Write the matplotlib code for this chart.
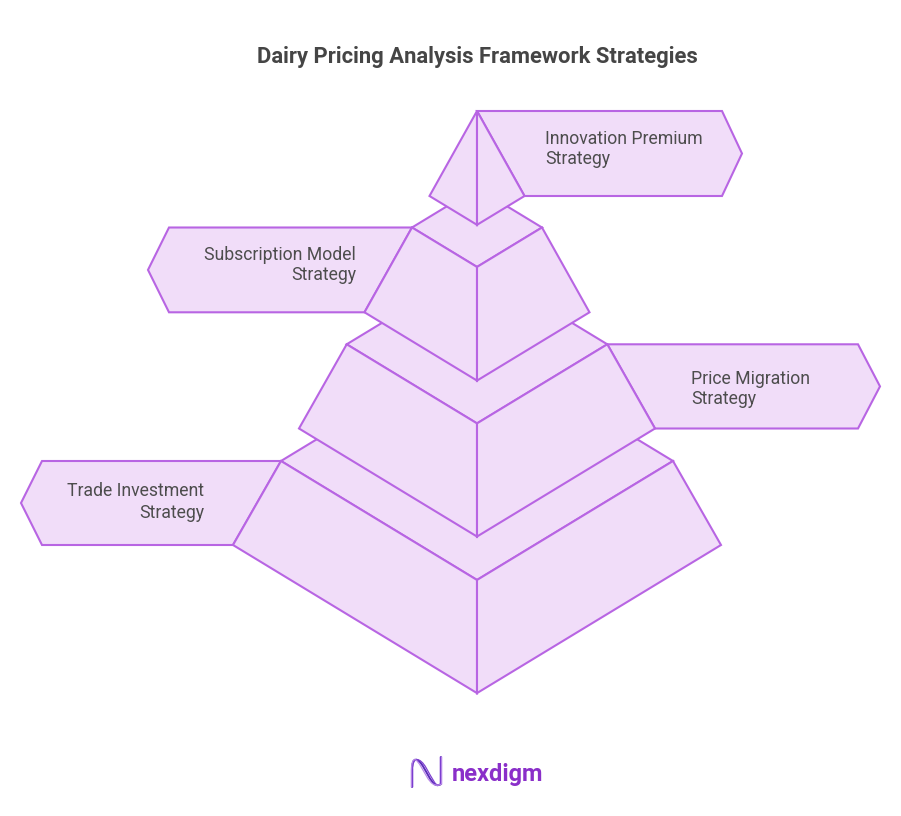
import matplotlib
matplotlib.use("Agg")
import matplotlib.pyplot as plt
from matplotlib.patches import Polygon, PathPatch
from matplotlib.path import Path
import numpy as np

# ---- content ----
title = "Dairy Pricing Analysis Framework Strategies"
labels = ["Innovation Premium\nStrategy",
          "Subscription Model\nStrategy",
          "Price Migration\nStrategy",
          "Trade Investment\nStrategy"]
label_side = ["right", "left", "right", "left"]
brand = "nexdigm"

# ---- style ----
FILL = "#F1DDF9"
EDGE = "#B865E3"
TEXT = "#4d4d4d"
LW = 1.5

W, H = 901, 816
fig = plt.figure(figsize=(W / 100, H / 100), dpi=100)
ax = fig.add_axes([0, 0, 1, 1])
ax.set_xlim(0, W)
ax.set_ylim(H, 0)
ax.axis("off")

CX = 477.0
R = 0.607  # rhombus aspect (half-height / half-width)

# tip pyramid
tip_apex = 111.0
tip_base_y = 196.0
tip_hw = 47.5
# frustum layers: (top corner y, top half width, bottom corner y, bottom half width)
layers = [(227.5, 65.0, 312.3, 112.5),
          (344.3, 130.3, 428.5, 178.0),
          (461.0, 196.0, 545.0, 244.0)]

# banner outer geometry: (outer corner x, point x)
banner_outer = [(722, 742), (169, 148), (858, 880), (42, 21)]


def poly(pts, z):
    ax.add_patch(Polygon(pts, closed=True, facecolor=FILL, edgecolor=EDGE,
                         lw=LW, joinstyle="miter", zorder=z))


# banner vertical extents and inner x positions
bands = [(tip_apex, tip_base_y, CX, CX + tip_hw)]
for i, (ty, thw, by, bhw) in enumerate(layers):
    side = label_side[i + 1]
    s = 1 if side == "right" else -1
    bands.append((ty, by, CX + s * thw, CX + s * bhw))

# banners (behind pyramid)
for i, ((ty, by, xin_t, xin_b), (xc, xp)) in enumerate(zip(bands, banner_outer)):
    pts = [(xin_t, ty), (xc, ty), (xp, (ty + by) / 2), (xc, by), (xin_b, by)]
    poly(pts, 1)

# frustums from bottom to top so upper layers overlap
for k, (ty, thw, by, bhw) in enumerate(reversed(layers)):
    z = 2 + k
    tf = ty + thw * R  # top front
    tb = ty - thw * R  # top back
    bf = by + bhw * R  # bottom front
    poly([(CX - thw, ty), (CX, tb), (CX + thw, ty), (CX, tf)], z)
    poly([(CX - thw, ty), (CX, tf), (CX, bf), (CX - bhw, by)], z)
    poly([(CX + thw, ty), (CX, tf), (CX, bf), (CX + bhw, by)], z)

# tip
z = 10
tipf = tip_base_y + tip_hw * R
poly([(CX, tip_apex), (CX - tip_hw, tip_base_y), (CX, tipf)], z)
poly([(CX, tip_apex), (CX + tip_hw, tip_base_y), (CX, tipf)], z)

# labels
text_x = [545, 356, 691, 204]
text_y1 = [143.5, 259.5, 383.5, 496.5]
LINE = 21
for lab, side, x, y in zip(labels, label_side, text_x, text_y1):
    ha = "left" if side == "right" else "right"
    for j, line in enumerate(lab.split("\n")):
        ax.text(x, y + j * LINE, line, ha=ha, va="baseline", fontsize=12.7,
                family="Roboto", color=TEXT, zorder=20)

# title
ax.text(CX, 63, title, ha="center", va="baseline", fontsize=15.8,
        family="Roboto", fontweight="bold", color="#454545", zorder=20)

# logo icon (decorative wave "N")
cols = ["#5a2bb8", "#7d3fd0", "#b98ae8"]
offs = [0, 2.2, -2.2]
for c, o in zip(cols, offs):
    verts = [(412 + o * 0.3, 787), (412 + o * 0.3, 770),
             (412, 756), (418 + o, 757), (424 + o, 768),
             (430 + o, 778), (434 + o, 789), (441 - o * 0.3, 784),
             (441 - o * 0.3, 772), (441 - o * 0.3, 757)]
    codes = [Path.MOVETO, Path.LINETO,
             Path.CURVE4, Path.CURVE4, Path.CURVE4,
             Path.CURVE4, Path.CURVE4, Path.CURVE4,
             Path.LINETO, Path.LINETO]
    ax.add_patch(PathPatch(Path(verts, codes), facecolor="none", edgecolor=c,
                           lw=1.4 if o == 0 else 0.9, capstyle="round", zorder=20))
ax.text(452, 781, brand, ha="left", va="baseline", fontsize=17,
        family="Roboto", fontweight="bold", color="#8a2fc9", zorder=20)

fig.savefig("out.png", dpi=100, facecolor="white")
